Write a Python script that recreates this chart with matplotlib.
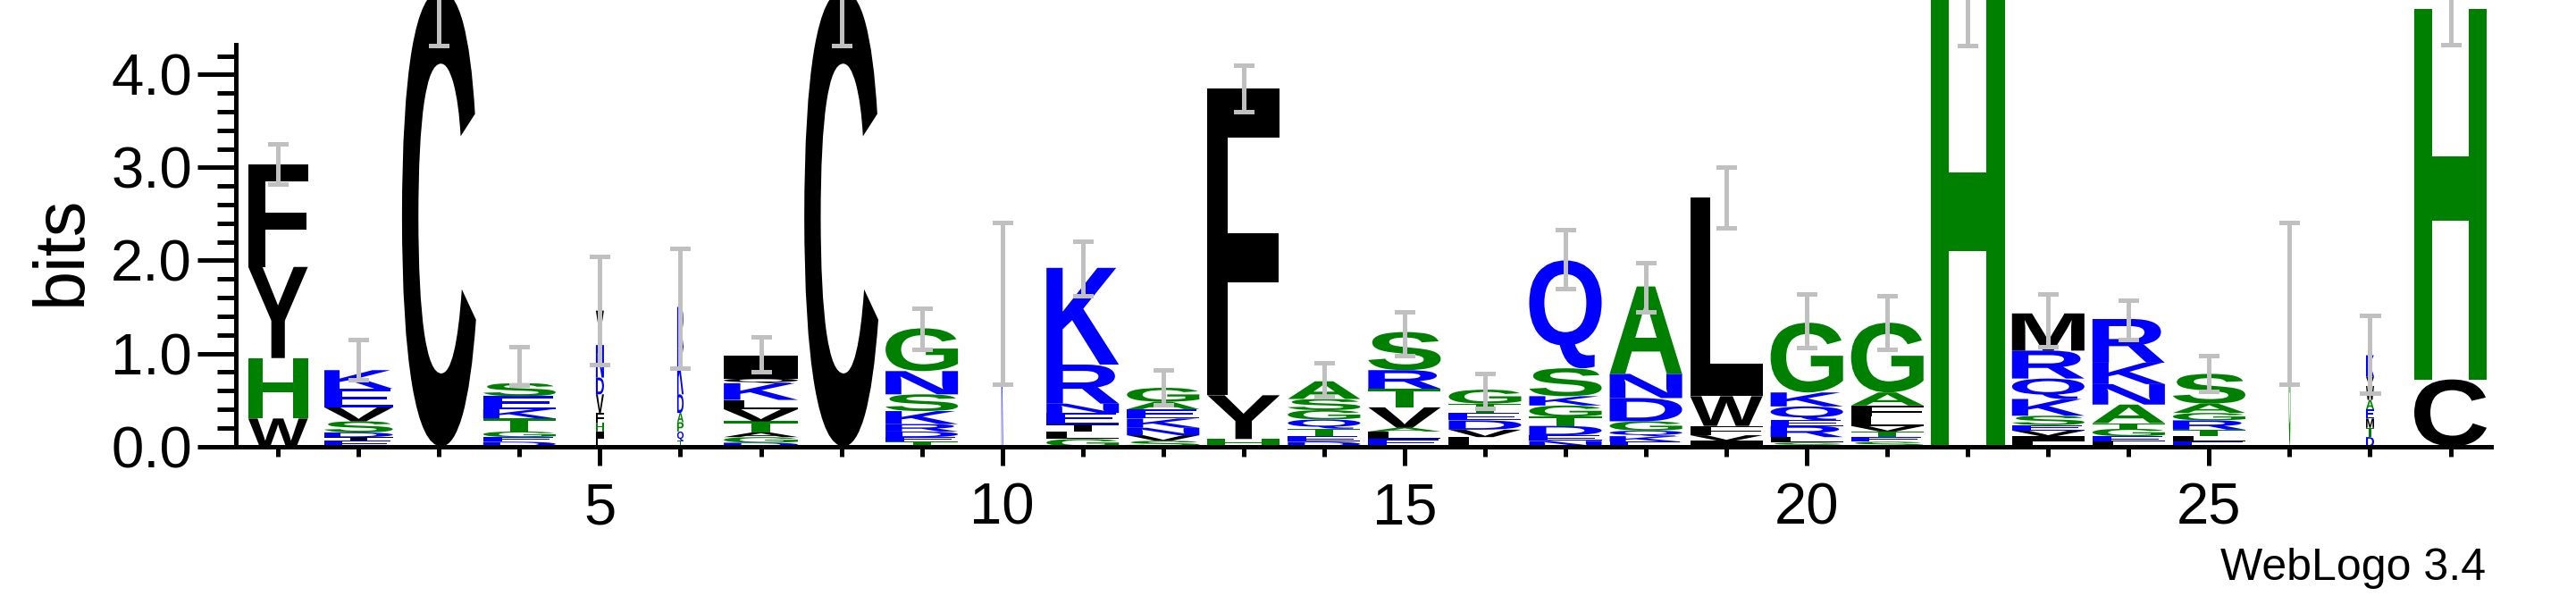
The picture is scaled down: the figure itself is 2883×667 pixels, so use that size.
import matplotlib
matplotlib.use("Agg")
import matplotlib.pyplot as plt
from matplotlib.textpath import TextPath
from matplotlib.font_manager import FontProperties
from matplotlib.patches import PathPatch
from matplotlib.transforms import Affine2D
from matplotlib.ticker import MultipleLocator, FixedLocator

k, b, g = "black", "#0000ff", "#008000"

# stacks bottom -> top: (letter, bits, colour)
stacks = [
    [("W", .30, k), ("H", .65, g), ("Y", .98, k), ("F", 1.10, k)],
    [("E", .06, b), ("T", .04, k), ("D", .05, b), ("S", .12, g), ("V", .15, k), ("E", .20, b), ("K", .20, b)],
    [("C", 4.9, k)],
    [("D", .05, b), ("E", .05, b), ("G", .06, g), ("T", .14, g), ("K", .10, b), ("E", .14, b), ("S", .14, g)],
    [("L", .08, k), ("I", .08, k), ("H", .10, g), ("F", .10, k), ("V", .20, k), ("D", .18, b), ("N", .35, b), ("Y", .37, k)],
    [("T", .06, g), ("Q", .10, b), ("P", .10, g), ("A", .10, g), ("D", .20, b), ("K", .50, b), ("R", .44, b)],
    [("D", .04, b), ("G", .06, g), ("A", .05, k), ("T", .12, g), ("V", .13, k), ("L", .10, k), ("K", .18, b), ("Q", .05, k), ("I", .25, k)],
    [("C", 4.9, k)],
    [("T", .05, g), ("E", .05, b), ("D", .06, b), ("R", .08, b), ("K", .14, b), ("S", .18, g), ("N", .25, b), ("G", .46, g)],
    [("K", 1.55, b)],
    [("G", .08, g), ("L", .08, k), ("T", .08, k), ("E", .12, b), ("N", .10, b), ("R", .42, b), ("K", 1.04, b)],
    [("S", .06, g), ("V", .06, k), ("N", .08, b), ("K", .10, b), ("E", .10, b), ("A", .08, g), ("G", .15, g)],
    [("H", .08, g), ("Y", .47, k), ("F", 3.30, k)],
    [("D", .05, b), ("E", .06, b), ("T", .08, g), ("Q", .10, b), ("G", .10, g), ("S", .12, g), ("A", .19, g)],
    [("E", .08, b), ("L", .08, k), ("A", .04, g), ("V", .22, k), ("T", .20, g), ("R", .20, b), ("S", .41, g)],
    [("L", .10, k), ("V", .08, k), ("D", .10, b), ("E", .08, b), ("T", .10, g), ("G", .15, g)],
    [("N", .06, b), ("E", .06, b), ("D", .10, b), ("T", .10, g), ("G", .12, g), ("K", .10, b), ("S", .30, g), ("Q", 1.16, b)],
    [("E", .05, b), ("K", .06, b), ("Q", .06, b), ("G", .10, g), ("D", .25, b), ("N", .26, b), ("A", .94, g)],
    [("I", .06, k), ("V", .06, k), ("F", .10, k), ("W", .32, k), ("L", 2.14, k)],
    [("S", .04, g), ("L", .06, k), ("R", .12, b), ("E", .06, b), ("Q", .15, b), ("K", .15, b), ("G", .75, g)],
    [("S", .05, g), ("E", .05, b), ("T", .06, g), ("V", .06, k), ("L", .10, k), ("F", .12, k), ("A", .14, g), ("G", .75, g)],
    [("H", 4.9, g)],
    [("L", .05, k), ("I", .06, k), ("V", .06, k), ("E", .06, b), ("S", .10, g), ("K", .18, b), ("Q", .22, b), ("R", .30, b), ("M", .40, k)],
    [("L", .05, k), ("E", .06, b), ("G", .08, g), ("T", .06, g), ("A", .20, g), ("N", .22, b), ("K", .23, b), ("R", .47, b)],
    [("E", .05, b), ("L", .06, k), ("T", .07, g), ("R", .10, b), ("G", .08, g), ("A", .10, g), ("S", .32, g)],
    [("G", 1.53, g)],
    [("D", .10, b), ("T", .10, g), ("M", .10, k), ("E", .10, b), ("A", .10, g), ("W", .15, k), ("V", .10, k), ("K", .23, b)],
    [("C", .72, k), ("H", 3.98, g)],
]
widths = [.74, .85, .92, .9, .1, .08, .92, .92, .9, .02, .9, .9, .9, .9, .9, .9, .9, .9, .9, .9, .9, .92, .9, .9, .9, .02, .1, .9]
err_lo = [2.82, .72, 4.31, .66, .88, .84, .80, 4.31, 1.04, .67, 1.62, .45, 3.60, .53, .98, .41, 1.70, 1.45, 2.35, 1.06, 1.04, 4.31, 1.07, 1.15, .59, .67, .57, 4.32]
err_hi = [3.25, 1.15, 5.4, 1.07, 2.04, 2.13, 1.18, 5.4, 1.49, 2.41, 2.21, .82, 4.10, .90, 1.45, .78, 2.33, 1.98, 3.00, 1.64, 1.62, 5.4, 1.64, 1.57, .98, 2.41, 1.41, 5.1]

fp = FontProperties(family="Liberation Sans", weight="bold")
narrow = ["Liberation Sans Narrow", "Liberation Sans", "DejaVu Sans"]

fig = plt.figure(figsize=(28.83, 6.67), dpi=100)
ax = fig.add_axes([0.0914, 0.251, 0.8755, 0.674])

for i, stack in enumerate(stacks):
    x = i + 1
    w = widths[i]
    y0 = 0.0
    for letter, h, col in stack:
        tp = TextPath((0, 0), letter, size=1, prop=fp)
        bb = tp.get_extents()
        tr = (Affine2D().translate(-bb.x0, -bb.y0)
              .scale(w / bb.width, h / bb.height)
              .translate(x - w / 2, y0))
        ax.add_patch(PathPatch(tr.transform_path(tp), facecolor=col,
                               edgecolor="none", clip_on=False))
        y0 += h
    ax.plot([x, x], [err_lo[i], err_hi[i]], color="#c0c0c0", lw=3.6, clip_on=False, zorder=5)
    for yy in (err_lo[i], err_hi[i]):
        ax.plot([x - .1, x + .1], [yy, yy], color="#c0c0c0", lw=3.6, clip_on=False, zorder=5)

ax.set_xlim(0.47, 28.5)
ax.set_ylim(0, 4.32)
for s in ("top", "right"):
    ax.spines[s].set_visible(False)
for s in ("left", "bottom"):
    ax.spines[s].set_linewidth(3.6)

ax.yaxis.set_major_locator(MultipleLocator(1.0))
ax.yaxis.set_minor_locator(MultipleLocator(0.2))
ax.set_yticks([0, 1, 2, 3, 4])
ax.set_yticklabels(["0.0", "1.0", "2.0", "3.0", "4.0"])
ax.xaxis.set_major_locator(FixedLocator([5, 10, 15, 20, 25]))
ax.xaxis.set_minor_locator(FixedLocator([p for p in range(1, 29) if p % 5]))
ax.set_xticklabels(["5", "10", "15", "20", "25"])
ax.tick_params(axis="y", which="major", length=31, width=3.6, pad=4)
ax.tick_params(axis="y", which="minor", length=15, width=3.6)
ax.tick_params(axis="x", which="major", length=15, width=3.6, pad=14)
ax.tick_params(axis="x", which="minor", length=8, width=3.6)
for lab in ax.get_xticklabels() + ax.get_yticklabels():
    lab.set_fontsize(47)
    lab.set_family(narrow)

fig.text(0.024, 0.58, "bits", rotation=90, fontsize=57, family="Liberation Sans",
         ha="center", va="center")
fig.text(0.965, 0.027, "WebLogo 3.4", fontsize=36, family=narrow, ha="right", va="baseline")

fig.savefig("out.png", dpi=100)
